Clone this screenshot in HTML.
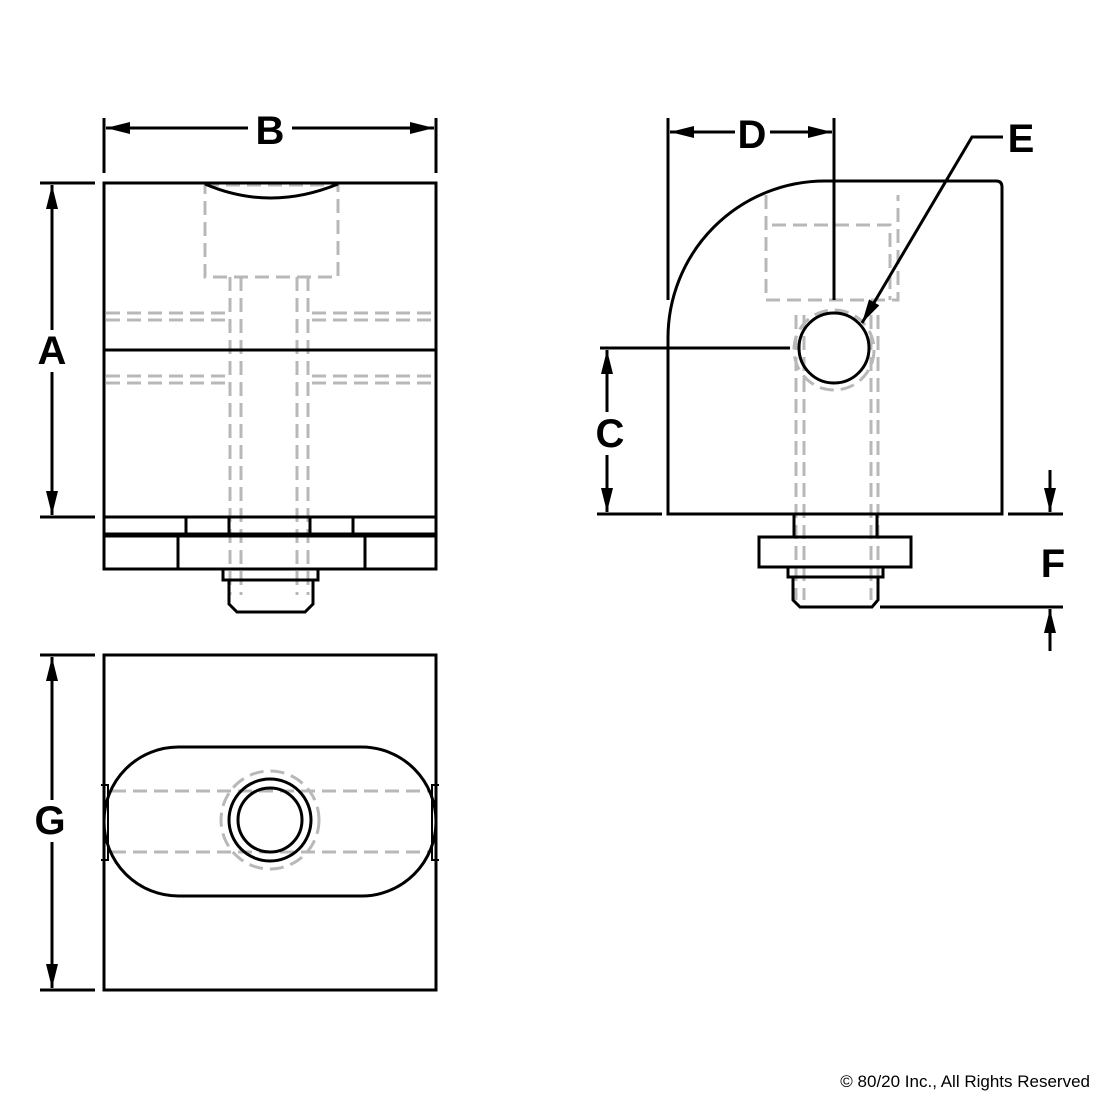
<!DOCTYPE html>
<html><head><meta charset="utf-8"><style>
html,body{margin:0;padding:0;background:#fff;}
svg{display:block;}
.s{fill:none;stroke:#000;stroke-width:3;}
.t{fill:none;stroke:#000;stroke-width:2;}
.d{fill:none;stroke:#b8b8b8;stroke-width:3;stroke-dasharray:14 7;}
.l{font-family:"Liberation Sans",sans-serif;font-weight:bold;font-size:40px;fill:#000;}
</style></head><body>
<svg width="1100" height="1100" viewBox="0 0 1100 1100" xmlns="http://www.w3.org/2000/svg">
<defs>
<marker id="a" viewBox="0 0 24 12" refX="24" refY="6" markerWidth="24" markerHeight="12" markerUnits="userSpaceOnUse" orient="auto"><path d="M0,0 L24,6 L0,12 z" fill="#000"/></marker>
</defs>

<!-- FRONT VIEW -->
<g class="d">
<rect x="205" y="185" width="133" height="92"/>
<path d="M230 277V595M241 277V595M297 277V595M308 277V595"/>
<path d="M106 313H226M106 320H226M312 313H434M312 320H434"/>
<path d="M106 376H226M106 383H226M312 376H434M312 383H434"/>
</g>
<rect class="s" x="104" y="183" width="332" height="334"/>
<line class="s" x1="104" y1="350" x2="436" y2="350"/>
<path class="s" d="M205 184 Q270 212 338 184"/>
<path class="s" d="M104 517V534H436V517M186 517V534M229 517V534M310 517V534M353 517V534"/>
<path class="s" d="M104 536H436V569H104ZM178 536V569M365 536V569"/>
<path class="s" d="M223 569V580H318V569M229 580V604L237 612H305L313 604V580"/>

<!-- B dimension -->
<path class="s" d="M104 118V173M436 118V173"/>
<line class="s" x1="248" y1="128" x2="106" y2="128" marker-end="url(#a)"/>
<line class="s" x1="292" y1="128" x2="434" y2="128" marker-end="url(#a)"/>
<text class="l" x="270" y="144" text-anchor="middle">B</text>
<!-- A dimension -->
<path class="s" d="M40 183H95M40 517H95"/>
<line class="s" x1="52" y1="330" x2="52" y2="185" marker-end="url(#a)"/>
<line class="s" x1="52" y1="372" x2="52" y2="515" marker-end="url(#a)"/>
<text class="l" x="52" y="364" text-anchor="middle">A</text>

<!-- BOTTOM VIEW -->
<rect class="s" x="104" y="655" width="332" height="335"/>
<path class="t" d="M101 785H108V860H101M439 785H432V860H439"/>
<g class="d">
<path d="M112 791H430M112 852H430"/>
<circle cx="270" cy="820" r="49"/>
</g>
<rect class="s" x="104" y="747" width="332" height="149" rx="74.5" ry="74.5"/>
<circle class="s" cx="270" cy="820" r="41"/>
<circle class="s" cx="270" cy="820" r="32"/>
<path class="s" d="M40 655H95M40 990H95"/>
<line class="s" x1="52" y1="800" x2="52" y2="657" marker-end="url(#a)"/>
<line class="s" x1="52" y1="842" x2="52" y2="988" marker-end="url(#a)"/>
<text class="l" x="50" y="834" text-anchor="middle">G</text>

<!-- SIDE VIEW -->
<g class="d">
<path d="M766 195V300H898V195"/>
<path d="M772 225H890V300"/>
<path d="M796 315V600M804 315V600M871 315V600M878 315V600"/>
<circle cx="834" cy="350" r="40"/>
</g>
<path class="s" d="M668 514V338A157 157 0 0 1 825 181H996Q1002 181 1002 187V514H668Z"/>
<circle class="s" cx="834" cy="348" r="35"/>
<path class="s" d="M794 514V537M877 514V537"/>
<rect class="s" x="759" y="537" width="152" height="30"/>
<path class="s" d="M788 567V577H883V567M793 577V600L800 607H872L878 600V577"/>

<!-- D dimension -->
<path class="s" d="M668 118V300M834 118V300"/>
<line class="s" x1="735" y1="132" x2="670" y2="132" marker-end="url(#a)"/>
<line class="s" x1="770" y1="132" x2="832" y2="132" marker-end="url(#a)"/>
<text class="l" x="752" y="148" text-anchor="middle">D</text>
<!-- E leader -->
<polyline class="s" points="1003,137 972,137 862,323" marker-end="url(#a)"/>
<text class="l" x="1021" y="152" text-anchor="middle">E</text>
<!-- C dimension -->
<path class="s" d="M600 348H790M597 514H662"/>
<line class="s" x1="607" y1="412" x2="607" y2="350" marker-end="url(#a)"/>
<line class="s" x1="607" y1="455" x2="607" y2="512" marker-end="url(#a)"/>
<text class="l" x="610" y="447" text-anchor="middle">C</text>
<!-- F dimension -->
<path class="s" d="M1008 514H1063M880 607H1063"/>
<line class="s" x1="1050" y1="470" x2="1050" y2="512" marker-end="url(#a)"/>
<line class="s" x1="1050" y1="651" x2="1050" y2="609" marker-end="url(#a)"/>
<text class="l" x="1053" y="577" text-anchor="middle">F</text>

<text x="1090" y="1087" text-anchor="end" style="font-family:'Liberation Sans',sans-serif;font-size:17px;fill:#000;">© 80/20 Inc., All Rights Reserved</text>
</svg>
</body></html>
